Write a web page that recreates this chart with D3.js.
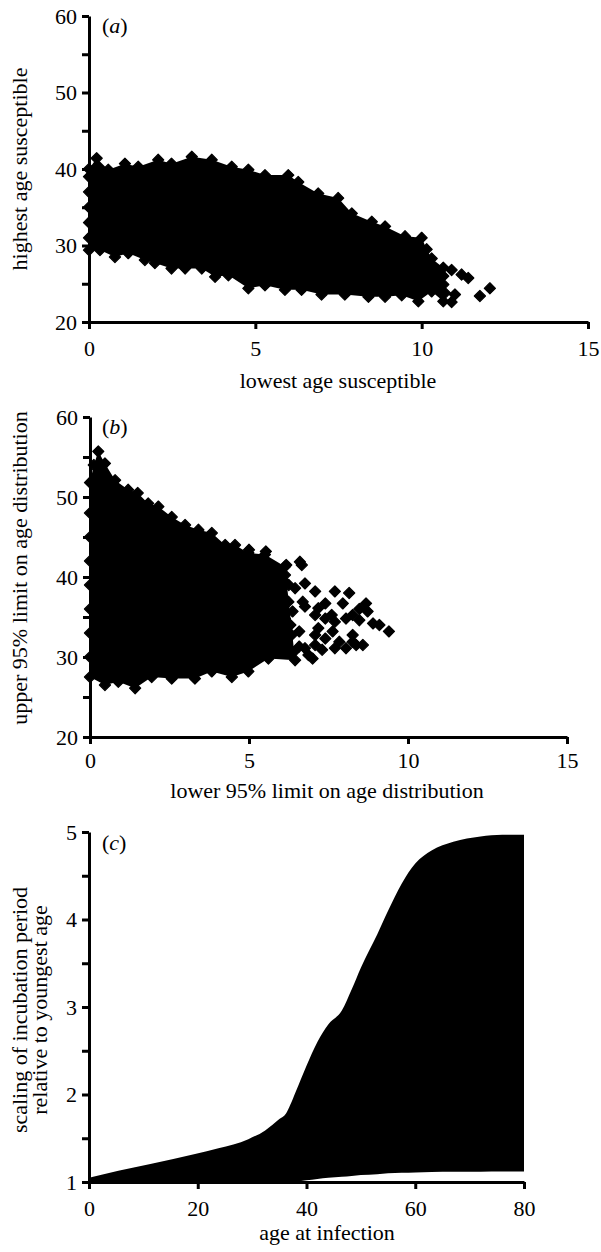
<!DOCTYPE html>
<html>
<head>
<meta charset="utf-8">
<script src="https://cdn.jsdelivr.net/npm/d3@7"></script>
<style>
    body { margin: 0; background: #fff; }
    svg { display: block; }
</style>
</head>
<body>
<div id="chart"></div>
<script>
// (a) outline of the point cloud: [lowest age, highest age]
const aUpper = [[0, 40.0], [0.23, 41.4], [0.58, 39.9], [1.08, 40.7], [1.48, 40.3], [2.08, 41.2], [2.48, 40.7],
    [3.09, 41.6], [3.69, 41.2], [4.29, 40.3], [4.79, 39.9], [5.29, 39.2], [5.99, 39.2], [6.29, 38.3], [6.89, 36.8],
    [7.49, 36.2], [7.9, 34.2], [8.5, 33.1], [8.9, 32.5], [9.5, 31.2], [10.0, 31.0], [10.15, 29.5], [10.3, 28.3],
    [10.65, 27.1]];
const aLower = [[0, 29.4], [0.33, 29.4], [0.78, 28.5], [1.18, 29.0], [1.68, 28.1], [1.98, 27.7], [2.48, 27.0],
    [2.89, 27.0], [3.39, 27.0], [3.79, 25.9], [4.19, 26.1], [4.79, 24.4], [5.29, 24.8], [5.89, 24.2], [6.39, 24.2],
    [6.99, 23.6], [7.69, 23.6], [8.4, 23.3], [8.9, 23.3], [9.4, 23.5], [9.9, 22.7], [10.3, 24.0], [10.65, 22.7]];
const aLeft = [[0, 31], [0, 33], [0, 35], [0, 37], [0, 39]];
const aStray = [[10.9, 26.8], [11.2, 26.2], [11.4, 25.75], [12.05, 24.4], [11.75, 23.4], [11.0, 23.6],
    [10.9, 22.6], [10.65, 26.0], [10.65, 24.9], [10.7, 23.8]];

// (b) outline of the dense part plus the loose points on the right: [lower 95%, upper 95%]
const bUpper = [[0, 51.8], [0.12, 54.0], [0.26, 55.7], [0.47, 54.2], [0.79, 52.1], [1.2, 50.9], [1.5, 50.5],
    [1.83, 49.2], [2.15, 48.8], [2.57, 47.5], [2.99, 46.5], [3.41, 45.9], [3.83, 45.5], [4.25, 44.0], [4.56, 44.0],
    [4.98, 43.0], [5.5, 42.8], [6.13, 41.3]];
const bLower = [[0, 27.5], [0.47, 26.5], [0.89, 26.9], [1.42, 26.1], [1.94, 27.5], [2.57, 27.3], [3.3, 27.3],
    [3.83, 28.2], [4.46, 27.5], [4.98, 28.2], [5.61, 29.8], [6.45, 29.6]];
const bLeft = [[0, 30], [0, 33], [0, 36], [0, 39], [0, 42], [0, 45], [0, 48]];
const bStray = [[6.6, 41.9], [6.17, 41.5], [6.76, 39.2], [7.08, 38.2], [7.7, 38.2], [8.15, 38.0], [7.4, 36.7],
    [7.95, 36.7], [8.68, 36.7], [8.73, 35.7], [8.47, 34.6], [8.9, 34.2], [9.1, 34.0], [9.4, 33.2], [8.05, 34.8],
    [8.26, 32.75], [8.37, 31.5], [7.7, 31.1], [7.84, 31.9], [7.18, 33.6], [7.08, 35.25], [7.3, 30.9], [6.87, 30.25],
    [6.58, 33.2], [6.13, 34.8], [6.13, 39.4], [5.74, 36.9], [5.53, 43.2], [5.0, 43.4], [5.74, 34.4],
    [6.37, 35.7], [6.69, 36.9], [7.4, 34.8], [7.63, 33.2], [7.08, 31.5], [8.05, 31.1], [6.58, 31.3], [8.47, 36.0],
    [7.0, 29.8], [6.66, 41.5], [6.13, 40.25], [5.82, 40.7], [6.45, 38.6], [6.24, 36.9], [6.76, 36.3], [7.18, 36.1],
    [7.6, 35.25], [7.08, 32.75], [7.4, 32.3], [6.76, 31.1], [6.13, 31.5], [6.34, 32.75], [7.7, 34.4], [8.26, 35.25],
    [8.26, 31.9], [8.58, 31.5], [6.25, 39.0], [6.3, 34.0], [6.4, 30.6]];

// (c) envelope of the incubation scaling
const ageC = [0, 5.4, 11.5, 19.5, 23.8, 29.3, 32.4, 35, 36.2, 37, 38, 40, 42, 44, 46.5, 48.3, 50, 53, 55, 57.5,
    60, 63, 67, 72, 76, 80];
const upperC = [1.05, 1.13, 1.21, 1.32, 1.385, 1.49, 1.59, 1.72, 1.78, 1.88, 2.03, 2.33, 2.6, 2.8, 2.96, 3.2,
    3.45, 3.83, 4.1, 4.41, 4.64, 4.79, 4.89, 4.95, 4.97, 4.97];
const lowerC = [1, 1, 1, 1, 1, 1, 1, 1, 1, 1, 1.005, 1.02, 1.035, 1.05, 1.06, 1.07, 1.08, 1.09, 1.1, 1.105,
    1.11, 1.115, 1.118, 1.118, 1.12, 1.12];

// tick values
const ticksScatterY = [20, 25, 30, 35, 40, 45, 50, 55, 60];
const ticksScatterX = [0, 5, 10, 15];
const ticksCY = [1, 1.5, 2, 2.5, 3, 3.5, 4, 4.5, 5];
const ticksCX = [0, 20, 40, 60, 80];

const font = "'Liberation Serif', 'Times New Roman', serif";

const svg = d3.select("#chart")
    .append("svg")
    .attr("width", 601)
    .attr("height", 1252)
    .style("font-family", font);

function styleAxis(g) {
    g.attr("font-family", font).attr("font-size", 22);
    g.select(".domain").attr("stroke", "#000").attr("stroke-width", 3);
    g.selectAll(".tick line").attr("stroke", "#000").attr("stroke-width", 3);
    g.selectAll(".tick text").attr("fill", "#000");
}

function drawAxes(x, y, xTicks, yTicks, yMajor, xPad) {
    const xAxis = svg.append("g")
        .attr("transform", `translate(0,${y.range()[0]})`)
        .call(d3.axisBottom(x).tickValues(xTicks).tickSize(7).tickSizeOuter(0).tickPadding(xPad));
    styleAxis(xAxis);
    const yAxis = svg.append("g")
        .attr("transform", `translate(${x.range()[0]},0)`)
        .call(d3.axisLeft(y).tickValues(yTicks).tickSize(7).tickSizeOuter(0).tickPadding(5)
            .tickFormat(d => yMajor(d) ? d : ""));
    styleAxis(yAxis);
}

function panelLabel(x, y, letter) {
    const t = svg.append("text").attr("x", x).attr("y", y).attr("font-size", 22);
    t.append("tspan").text("(");
    t.append("tspan").attr("font-style", "italic").text(letter);
    t.append("tspan").text(")");
}

const diamond = d3.symbol().type(d3.symbolSquare).size(62)();

function drawCloud(x, y, upper, lower, extra) {
    const outline = d3.line()
        .x(d => x(d[0]))
        .y(d => y(d[1]))
        .curve(d3.curveLinearClosed);
    svg.append("path")
        .attr("d", outline(upper.concat(lower.slice().reverse())))
        .attr("fill", "#000");
    svg.append("g")
        .selectAll("path")
        .data(upper.concat(lower, extra))
        .enter()
        .append("path")
        .attr("d", diamond)
        .attr("transform", d => `translate(${x(d[0])},${y(d[1])}) rotate(45)`)
        .attr("fill", "#000")
        .attr("stroke", "#000")
        .attr("stroke-width", 1.2)
        .attr("stroke-linejoin", "round");
}

// ---------- (a)
const xA = d3.scaleLinear().domain([0, 15]).range([89, 588]);
const yA = d3.scaleLinear().domain([20, 60]).range([322, 16]);
drawCloud(xA, yA, aUpper, aLower, aLeft.concat(aStray));
drawAxes(xA, yA, ticksScatterX, ticksScatterY, d => d % 10 === 0, 11);
panelLabel(102, 33, "a");
svg.append("text")
    .attr("text-anchor", "middle")
    .attr("x", 338).attr("y", 388)
    .attr("font-size", 22)
    .text("lowest age susceptible");
svg.append("text")
    .attr("text-anchor", "middle")
    .attr("transform", "translate(27,169) rotate(-90)")
    .attr("font-size", 22)
    .text("highest age susceptible");

// ---------- (b)
const xB = d3.scaleLinear().domain([0, 15]).range([90, 567]);
const yB = d3.scaleLinear().domain([20, 60]).range([737, 417]);
drawCloud(xB, yB, bUpper, bLower, bLeft.concat(bStray));
drawAxes(xB, yB, ticksScatterX, ticksScatterY, d => d % 10 === 0, 8);
panelLabel(102, 434, "b");
svg.append("text")
    .attr("text-anchor", "middle")
    .attr("x", 327).attr("y", 798)
    .attr("font-size", 22)
    .text("lower 95% limit on age distribution");
svg.append("text")
    .attr("text-anchor", "middle")
    .attr("transform", "translate(27,568) rotate(-90)")
    .attr("font-size", 22)
    .text("upper 95% limit on age distribution");

// ---------- (c)
const xC = d3.scaleLinear().domain([0, 80]).range([89, 524]);
const yC = d3.scaleLinear().domain([1, 5]).range([1182, 832]);
const band = d3.area()
    .x((d, i) => xC(ageC[i]))
    .y0((d, i) => yC(lowerC[i]))
    .y1((d, i) => yC(upperC[i]))
    .curve(d3.curveMonotoneX);
svg.append("path")
    .attr("d", band(ageC))
    .attr("fill", "#000");
drawAxes(xC, yC, ticksCX, ticksCY, d => Number.isInteger(d), 11);
panelLabel(102, 850, "c");
svg.append("text")
    .attr("text-anchor", "middle")
    .attr("x", 327).attr("y", 1240)
    .attr("font-size", 22)
    .text("age at infection");
const yTitle = svg.append("text")
    .attr("text-anchor", "middle")
    .attr("transform", "translate(27,1010) rotate(-90)")
    .attr("font-size", 22);
yTitle.append("tspan").attr("x", 0).attr("y", 0).text("scaling of incubation period");
yTitle.append("tspan").attr("x", 0).attr("y", 20).text("relative to youngest age");
</script>
</body>
</html>
